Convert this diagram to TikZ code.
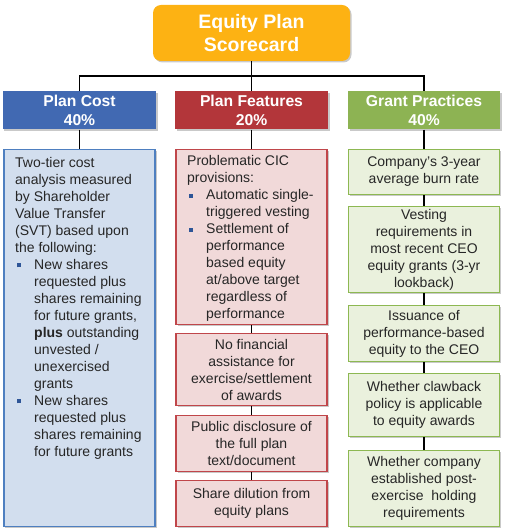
\documentclass[tikz,border=0pt]{standalone}
\usepackage{fontspec}
\setmainfont{Liberation Sans}
\usetikzlibrary{shadows}
\definecolor{titlefill}{HTML}{FDB213}
\definecolor{pchead}{HTML}{4169B2}
\definecolor{pfhead}{HTML}{B3363A}
\definecolor{gphead}{HTML}{8DB353}
\definecolor{pcfill}{HTML}{D2DEEE}
\definecolor{pcline}{HTML}{4E7FC0}
\definecolor{pffill}{HTML}{F1D9D9}
\definecolor{pfline}{HTML}{C0464A}
\definecolor{gpfill}{HTML}{EAF1DD}
\definecolor{gpline}{HTML}{8DB852}
\definecolor{bulb}{HTML}{2E5597}
\definecolor{bodytext}{HTML}{262626}
\newcommand{\hdrfont}{\fontsize{15.7bp}{19.5bp}\selectfont\bfseries}
\newcommand{\ttlfont}{\fontsize{19.5bp}{23.5bp}\selectfont\bfseries}
\newcommand{\bodyfont}{\fontsize{14bp}{17bp}\selectfont}
\newcommand{\sqb}{\makebox[19bp][l]{\hspace{2bp}\textcolor{bulb}{\rule[2bp]{4bp}{4bp}}}}
\newcommand{\ind}{\hspace*{19bp}}
\tikzset{
  shd/.style={drop shadow={shadow xshift=1.5bp, shadow yshift=-1.5bp, opacity=0.3, fill=black!70}},
  hdr/.style={shd, minimum width=153bp, minimum height=38bp, inner sep=0, text=white, font=\hdrfont, align=center},
  bodybox/.style={shd, line width=1.8bp, minimum width=151bp, inner sep=0, text=bodytext, font=\bodyfont, align=center},
  pcbox/.style={bodybox, draw=pcline, fill=pcfill},
  pfbox/.style={bodybox, draw=pfline, fill=pffill},
  gpbox/.style={bodybox, draw=gpline, fill=gpfill},
  lefttext/.style={anchor=north west, inner sep=0, text=bodytext, font=\bodyfont, align=left},
  conn/.style={draw=black, line width=1.3bp}
}
\begin{document}
\begin{tikzpicture}[x=1bp,y=-1bp]
\useasboundingbox (0,0) rectangle (513,531);
% title
\node[shd, fill=titlefill, rounded corners=8bp, minimum width=197bp, minimum height=56bp, inner sep=0, text=white, font=\ttlfont, align=center] (title) at (251.5,33) {Equity Plan\\Scorecard};
% headers
\node[hdr, fill=pchead] (pch) at (79.5,110.5) {Plan Cost\\40\%};
\node[hdr, fill=pfhead] (pfh) at (251.5,110.5) {Plan Features\\20\%};
\node[hdr, fill=gphead, minimum width=152bp] (gph) at (424,110.5) {Grant Practices\\40\%};
% bus
\coordinate (bus) at (251.5,76);
\draw[conn] (title.south) -- (title.south |- bus);
\draw[conn] (pch.north) -- (pch.north |- bus) -- (gph.north |- bus) -- (gph.north);
\draw[conn] (pfh.north) -- (pfh.north |- bus);
% plan cost body
\node[pcbox, minimum height=377bp] (pcb) at (79.5,338) {};
\node[lefttext] (pct) at (15,157) {Two-tier cost\\
analysis measured\\
by Shareholder\\
Value Transfer\\
(SVT) based upon\\
the following:\\
\sqb New shares\\
\ind requested plus\\
\ind shares remaining\\
\ind for future grants,\\
\ind\textbf{plus} outstanding\\
\ind unvested /\\
\ind unexercised\\
\ind grants\\
\sqb New shares\\
\ind requested plus\\
\ind shares remaining\\
\ind for future grants};
\draw[conn] (pch.south) -- (pcb.north);
% plan features
\node[pfbox, minimum height=175bp] (pf1) at (251.5,237) {};
\node[lefttext] (pf1t) at (187,155.5) {Problematic CIC\\
provisions:\\
\sqb Automatic single-\\
\ind triggered vesting\\
\sqb Settlement of\\
\ind performance\\
\ind based equity\\
\ind at/above target\\
\ind regardless of\\
\ind performance};
\node[pfbox, minimum height=72bp] (pf2) at (251.5,369.5) {No financial\\assistance for\\exercise/settlement\\of awards};
\node[pfbox, minimum height=56bp] (pf3) at (251.5,443.5) {Public disclosure of\\the full plan\\text/document};
\node[pfbox, minimum height=46bp] (pf4) at (251.5,503.5) {Share dilution from\\equity plans};
\draw[conn] (pfh.south) -- (pf1.north);
\draw[conn] (pf1.south) -- (pf2.north);
\draw[conn] (pf2.south) -- (pf3.north);
\draw[conn] (pf3.south) -- (pf4.north);
% grant practices
\node[gpbox, minimum height=45bp] (gp1) at (424,172) {Company’s 3-year\\average burn rate};
\node[gpbox, minimum height=86bp] (gp2) at (424,249.5) {Vesting\\requirements in\\most recent CEO\\equity grants (3-yr\\lookback)};
\node[gpbox, minimum height=56bp] (gp3) at (424,333.5) {Issuance of\\performance-based\\equity to the CEO};
\node[gpbox, minimum height=63bp] (gp4) at (424,405) {Whether clawback\\policy is applicable\\to equity awards};
\node[gpbox, minimum height=76bp] (gp5) at (424,488.5) {Whether company\\established post-\\exercise\ \ holding\\requirements};
\draw[conn] (gph.south) -- (gp1.north);
\draw[conn] (gp1.south) -- (gp2.north);
\draw[conn] (gp2.south) -- (gp3.north);
\draw[conn] (gp3.south) -- (gp4.north);
\draw[conn] (gp4.south) -- (gp5.north);
\end{tikzpicture}
\end{document}
